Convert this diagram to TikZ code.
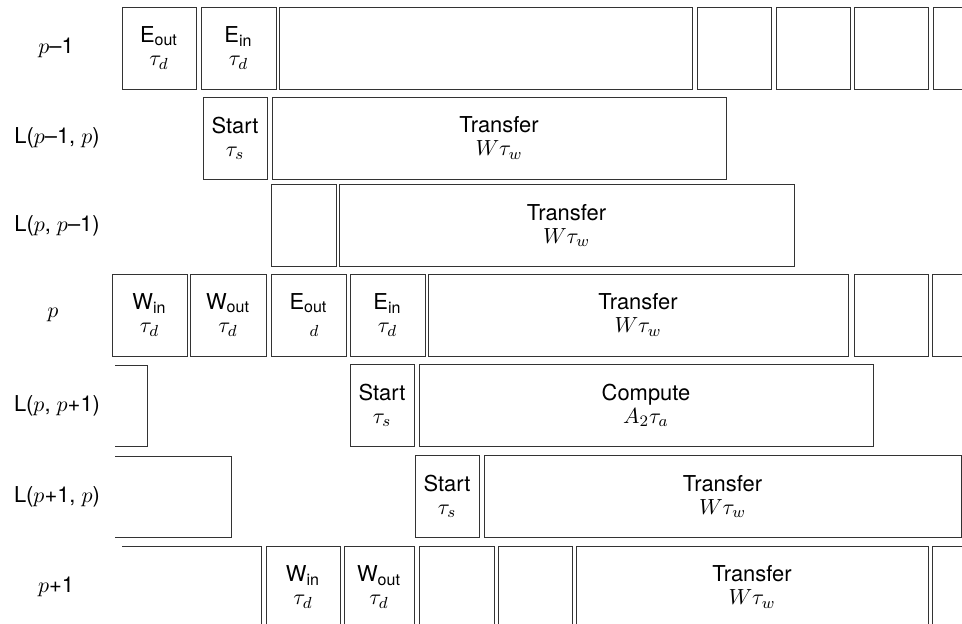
\documentclass[tikz,border=0pt]{standalone}
\usepackage{amsmath}
\usepackage{fontspec}
\setmainfont{TeX Gyre Heros}
\usepackage{tikz}

\begin{document}
\begin{tikzpicture}[x=0.5pt,y=-0.5pt,
  slot/.style={draw=black!80,line width=0.5pt,inner sep=0pt,minimum height=41pt,align=center,font=\fontsize{10.95}{11.5}\selectfont},
  lane/.style={font=\fontsize{10.95}{11.5}\selectfont}]
\useasboundingbox (0,0) rectangle (962,623);
\clip (0,0) rectangle (962,623);
% row names, one per lane
\node[lane] (lpm) at (56,48) {$p$--1};
\node[lane] (lpmp) at (57,138) {L($p$--1, $p$)};
\node[lane] (lppm) at (57,225.5) {L($p$, $p$--1)};
\node[lane] (lp) at (53,315) {$p$};
\node[lane] (lppp) at (57,405.5) {L($p$, $p$+1)};
\node[lane] (lppl) at (57,496.5) {L($p$+1, $p$)};
\node[lane] (lpp) at (56,587) {$p$+1};
% processor p-1
\node[slot,minimum width=37pt] (eoutA) at (159,48) {E\textsubscript{out}\\$\tau_d$};
\node[slot,minimum width=37.5pt] (einA) at (238.5,48) {E\textsubscript{in}\\$\tau_d$};
\node[slot,minimum width=206.5pt] (idleA) at (485.5,48) {};
\foreach \cx/\nm in {734/a1,813/a2,891.5/a3} {\node[slot,minimum width=37pt] (\nm) at (\cx,48) {};}
\node[slot,minimum width=38.5pt] (a4) at (971.5,48) {};
% link p-1 -> p
\node[slot,minimum width=32pt] (startB) at (235,138) {Start\\$\tau_s$};
\node[slot,minimum width=227pt] (xferB) at (499,138) {Transfer\\$W\tau_w$};
% link p -> p-1
\node[slot,minimum width=32.5pt] (idleC) at (303.5,225.5) {};
\node[slot,minimum width=227.5pt] (xferC) at (566.5,225.5) {Transfer\\$W\tau_w$};
% processor p
\node[slot,minimum width=37.5pt] (winD) at (149.5,315) {W\textsubscript{in}\\$\tau_d$};
\node[slot,minimum width=38pt] (woutD) at (228,315) {W\textsubscript{out}\\$\tau_d$};
\node[slot,minimum width=37.5pt] (eoutD) at (308.5,315) {E\textsubscript{out}\\$\phantom{\tau}_d$};
\node[slot,minimum width=37.5pt] (einD) at (387.5,315) {E\textsubscript{in}\\$\tau_d$};
\node[slot,minimum width=210pt] (xferD) at (638,315) {Transfer\\$W\tau_w$};
\node[slot,minimum width=37pt] (d1) at (891,315) {};
\node[slot,minimum width=39pt] (d2) at (971,315) {};
% link p -> p+1
\draw[draw=black!80,line width=0.5pt] (115,365) -| (147,446) -- (115,446);
\node[slot,minimum width=32pt] (startE) at (382,405.5) {Start\\$\tau_s$};
\node[slot,minimum width=227pt] (compE) at (646,405.5) {Compute\\$A_2\tau_a$};
% link p+1 -> p
\draw[draw=black!80,line width=0.5pt] (115,456) -| (231,537) -- (115,537);
\node[slot,minimum width=32pt] (startF) at (447,496.5) {Start\\$\tau_s$};
\node[slot,minimum width=238.5pt] (xferF) at (722.5,496.5) {Transfer\\$W\tau_w$};
% processor p+1
\draw[draw=black!80,line width=0.5pt] (122,546) -| (261,640);
\node[slot,minimum width=37pt] (winG) at (303,587) {W\textsubscript{in}\\$\tau_d$};
\node[slot,minimum width=35pt] (woutG) at (379,587) {W\textsubscript{out}\\$\tau_d$};
\node[slot,minimum width=37.5pt] (g1) at (456.5,587) {};
\node[slot,minimum width=37pt] (g2) at (535,587) {};
\node[slot,minimum width=176pt] (xferG) at (752,587) {Transfer\\$W\tau_w$};
\node[slot,minimum width=39pt] (g3) at (971,587) {};
\end{tikzpicture}
\end{document}
